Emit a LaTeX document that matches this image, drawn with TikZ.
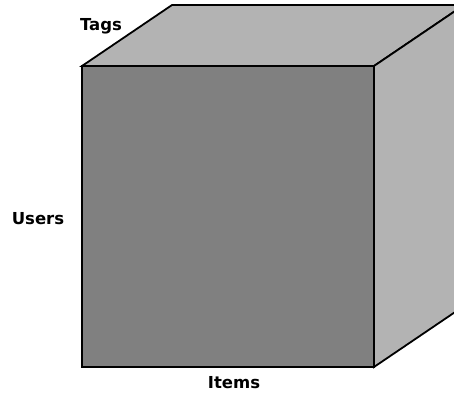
\documentclass[tikz,border=0pt]{standalone}
\usepackage{fontspec}
\setmainfont{DejaVu Sans}
\usepackage{tikz}
\definecolor{CubeFront}{HTML}{808080}
\definecolor{CubeSide}{HTML}{B3B3B3}

\begin{document}
\begin{tikzpicture}[
    x=1pt, y=-1pt,
    face/.style={draw=black, line width=1.8pt, line join=miter},
    axis/.style={font=\fontsize{16.5}{19}\selectfont\bfseries, inner sep=0pt}
  ]
    \useasboundingbox (0,0) rectangle (454,394);
    \begin{scope}
      \clip (0,0) rectangle (454,394);
      % top and right faces
      \filldraw[face, fill=CubeSide] (82,66) -- (172,5) -- (464,5) -- (374,66) -- cycle;
      \filldraw[face, fill=CubeSide] (374,66) -- (464,5) -- (464,306) -- (374,367) -- cycle;
      % front face
      \filldraw[face, fill=CubeFront] (82,66) rectangle (374,367);
    \end{scope}

    \node[axis] (tags) at (101,26) {Tags};
    \node[axis] (users) at (38,219) {Users};
    \node[axis] (items) at (234,383) {Items};
  \end{tikzpicture}
\end{document}
